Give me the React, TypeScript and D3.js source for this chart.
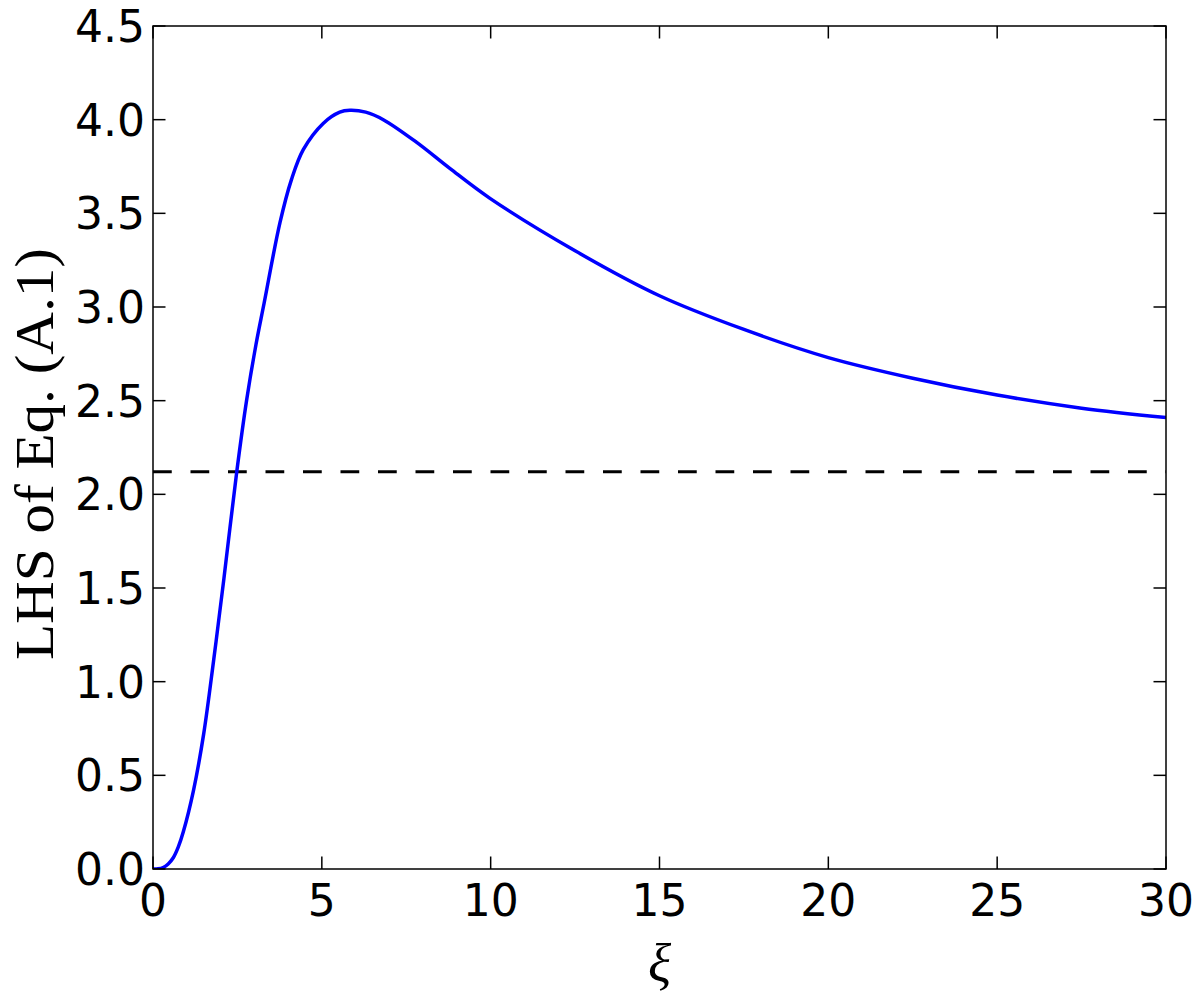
import React from "react";
import * as d3 from "d3";

const xiValues = [0, 0.15, 0.3, 0.45, 0.6, 0.75, 0.9, 1.2, 1.5, 1.8, 2.1, 2.48, 2.77, 3.05, 3.29, 3.76, 4.1, 4.45, 5.04, 5.53, 5.83, 6.3, 6.82, 7.8, 8.79, 9.98, 12.5, 15, 17.5, 20, 22.5, 25, 27.5, 30];
const lhsValues = [0, 0.001, 0.008, 0.027, 0.06, 0.118, 0.2, 0.42, 0.72, 1.12, 1.55, 2.12, 2.5, 2.8, 3.02, 3.45, 3.68, 3.84, 3.98, 4.04, 4.05, 4.04, 4.0, 3.88, 3.74, 3.58, 3.3, 3.06, 2.88, 2.73, 2.62, 2.53, 2.46, 2.41];
const thresholdValue = [2.12];
const xTicks = [0, 5, 10, 15, 20, 25, 30];
const yTicks = [0, 0.5, 1, 1.5, 2, 2.5, 3, 3.5, 4, 4.5];

const W = 1200;
const H = 995;
const L = 153;
const R = 1166;
const T = 26;
const B = 869;

export default function App() {
  const x = d3.scaleLinear().domain([0, 30]).range([L, R]);
  const y = d3.scaleLinear().domain([0, 4.5]).range([B, T]);
  const pts: [number, number][] = xiValues.map((v, i) => [v, lhsValues[i]]);
  const line = d3
    .line<[number, number]>()
    .x((d) => x(d[0]))
    .y((d) => y(d[1]))
    .curve(d3.curveCatmullRom.alpha(0.5));
  const tickLen = 12.5;
  const tickFont = "'DejaVu Sans', sans-serif";
  return (
    <svg
      width={W}
      height={H}
      style={{ position: "absolute", left: 0, top: 0, background: "#fff" }}
    >
      <rect x={0} y={0} width={W} height={H} fill="#fff" />
      <defs>
        <clipPath id="plotclip">
          <rect x={L} y={T} width={R - L} height={B - T} />
        </clipPath>
      </defs>
      <g clipPath="url(#plotclip)">
        {thresholdValue.map((v, i) => (
          <line
            key={i}
            x1={x(0)}
            x2={x(30)}
            y1={y(v)}
            y2={y(v)}
            stroke="#000"
            strokeWidth={3}
            strokeDasharray="18.75 18.75"
          />
        ))}
        <path d={line(pts) || ""} fill="none" stroke="#0000ff" strokeWidth={3.5} />
      </g>
      {xTicks.map((t) => (
        <g key={"x" + t}>
          <line x1={x(t)} x2={x(t)} y1={B} y2={B - tickLen} stroke="#000" strokeWidth={1.5} />
          <line x1={x(t)} x2={x(t)} y1={T} y2={T + tickLen} stroke="#000" strokeWidth={1.5} />
          <text
            x={x(t)}
            y={B + 47}
            textAnchor="middle"
            fontFamily={tickFont}
            fontSize={44}
            fill="#000"
          >
            {String(t)}
          </text>
        </g>
      ))}
      {yTicks.map((t) => (
        <g key={"y" + t}>
          <line x1={L} x2={L + tickLen} y1={y(t)} y2={y(t)} stroke="#000" strokeWidth={1.5} />
          <line x1={R} x2={R - tickLen} y1={y(t)} y2={y(t)} stroke="#000" strokeWidth={1.5} />
          <text
            x={L - 8}
            y={y(t) + 16}
            textAnchor="end"
            fontFamily={tickFont}
            fontSize={44}
            fill="#000"
          >
            {t.toFixed(1)}
          </text>
        </g>
      ))}
      <rect x={L} y={T} width={R - L} height={B - T} fill="none" stroke="#000" strokeWidth={1.5} />
      <text
        x={(L + R) / 2}
        y={982}
        textAnchor="middle"
        fontFamily="'Liberation Serif', serif"
        fontStyle="italic"
        fontSize={54}
        fill="#000"
      >
        ξ
      </text>
      <text
        transform={`translate(53, ${454}) rotate(-90)`}
        textAnchor="middle"
        fontFamily="'Liberation Serif', serif"
        fontSize={54}
        textLength={412}
        lengthAdjust="spacingAndGlyphs"
        fill="#000"
      >
        LHS of Eq. (A.1)
      </text>
    </svg>
  );
}
